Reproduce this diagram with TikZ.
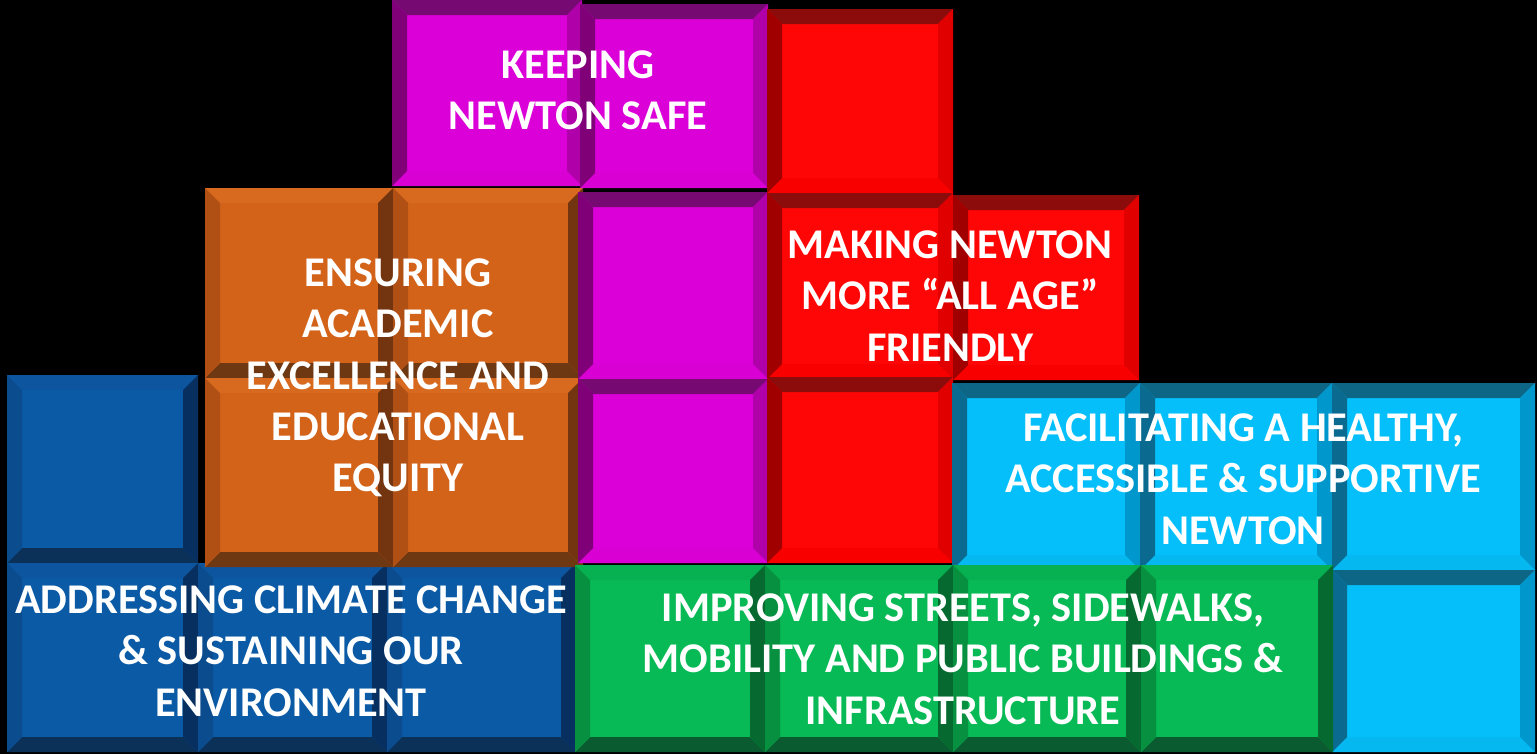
\documentclass[tikz,border=0pt]{standalone}
\usepackage{fontspec}
\setmainfont{Carlito}
\definecolor{dbF}{HTML}{0B5AA5}\definecolor{dbT}{HTML}{0E55A0}\definecolor{dbL}{HTML}{0A4C8E}\definecolor{dbR}{HTML}{073060}\definecolor{dbB}{HTML}{0C3158}
\definecolor{orF}{HTML}{D4631A}\definecolor{orT}{HTML}{D86A20}\definecolor{orL}{HTML}{B05014}\definecolor{orR}{HTML}{733510}\definecolor{orB}{HTML}{6E3812}
\definecolor{mgF}{HTML}{DB00D8}\definecolor{mgT}{HTML}{760A72}\definecolor{mgL}{HTML}{800078}\definecolor{mgR}{HTML}{B000AA}\definecolor{mgB}{HTML}{D800D2}
\definecolor{rdF}{HTML}{FF0606}\definecolor{rdT}{HTML}{8C0C0C}\definecolor{rdL}{HTML}{A00000}\definecolor{rdR}{HTML}{E00000}\definecolor{rdB}{HTML}{F80000}
\definecolor{grF}{HTML}{07BA55}\definecolor{grT}{HTML}{07B050}\definecolor{grL}{HTML}{079040}\definecolor{grR}{HTML}{066A30}\definecolor{grB}{HTML}{0A5C30}
\definecolor{lbF}{HTML}{05BFFA}\definecolor{lbT}{HTML}{0D6686}\definecolor{lbL}{HTML}{0A6A90}\definecolor{lbR}{HTML}{0097CC}\definecolor{lbB}{HTML}{05B8F0}
\newcommand\bv{15}
\newcommand\tcell[5]{%
 \fill[#5F] (#1,#2) rectangle (#3,#4);
 \fill[#5T] (#1,#2) -- (#3,#2) -- ({#3-\bv},{#2+\bv}) -- ({#1+\bv},{#2+\bv}) -- cycle;
 \fill[#5B] (#1,#4) -- (#3,#4) -- ({#3-\bv},{#4-\bv}) -- ({#1+\bv},{#4-\bv}) -- cycle;
 \fill[#5L] (#1,#2) -- ({#1+\bv},{#2+\bv}) -- ({#1+\bv},{#4-\bv}) -- (#1,#4) -- cycle;
 \fill[#5R] (#3,#2) -- ({#3-\bv},{#2+\bv}) -- ({#3-\bv},{#4-\bv}) -- (#3,#4) -- cycle;
}
\tikzset{lbl/.style={text=white, align=center, font=\fontsize{24.1}{29.2}\selectfont\bfseries, inner sep=0pt}}
\begin{document}
\begin{tikzpicture}[x=0.02cm, y=-0.02cm]
\fill[black] (0,0) rectangle (1537,754);
\useasboundingbox (0,0) rectangle (1537,754);
% dark blue
\tcell{7}{375}{198}{563}{db}
\tcell{7}{563}{198}{752}{db}
\tcell{198}{563}{387}{752}{db}
\tcell{387}{563}{576}{752}{db}
% orange
\tcell{205}{188}{393}{378}{or}
\tcell{393}{188}{583}{378}{or}
\tcell{205}{378}{393}{567}{or}
\tcell{393}{378}{583}{567}{or}
% magenta
\tcell{392}{0}{582}{186}{mg}
\tcell{580}{4}{768}{188}{mg}
\tcell{578}{192}{768}{379}{mg}
\tcell{578}{379}{768}{563}{mg}
% red
\tcell{767}{9}{953}{193}{rd}
\tcell{767}{193}{953}{379}{rd}
\tcell{953}{195}{1139}{380}{rd}
\tcell{767}{377}{953}{563}{rd}
% light blue
\tcell{952}{383}{1140}{570}{lb}
\tcell{1140}{383}{1332}{570}{lb}
\tcell{1332}{383}{1535}{570}{lb}
\tcell{1332}{570}{1535}{752}{lb}
% green
\tcell{575}{565}{765}{752}{gr}
\tcell{765}{565}{953}{752}{gr}
\tcell{953}{565}{1141}{752}{gr}
\tcell{1141}{565}{1333}{752}{gr}
% labels
\node[lbl] (safe) at (578,90) {KEEPING\\NEWTON SAFE};
\node[lbl] (edu) at (398,378) {ENSURING\\ACADEMIC\\EXCELLENCE AND\\EDUCATIONAL\\EQUITY};
\node[lbl] (age) at (950,296) {MAKING NEWTON\\MORE “ALL AGE”\\FRIENDLY};
\node[lbl] (health) at (1243,479) {FACILITATING A HEALTHY,\\ACCESSIBLE \& SUPPORTIVE\\NEWTON};
\node[lbl] (climate) at (291,651) {ADDRESSING CLIMATE CHANGE\\\& SUSTAINING OUR\\ENVIRONMENT};
\node[lbl] (streets) at (963,659) {IMPROVING STREETS, SIDEWALKS,\\MOBILITY AND PUBLIC BUILDINGS \&\\INFRASTRUCTURE};
\end{tikzpicture}
\end{document}
